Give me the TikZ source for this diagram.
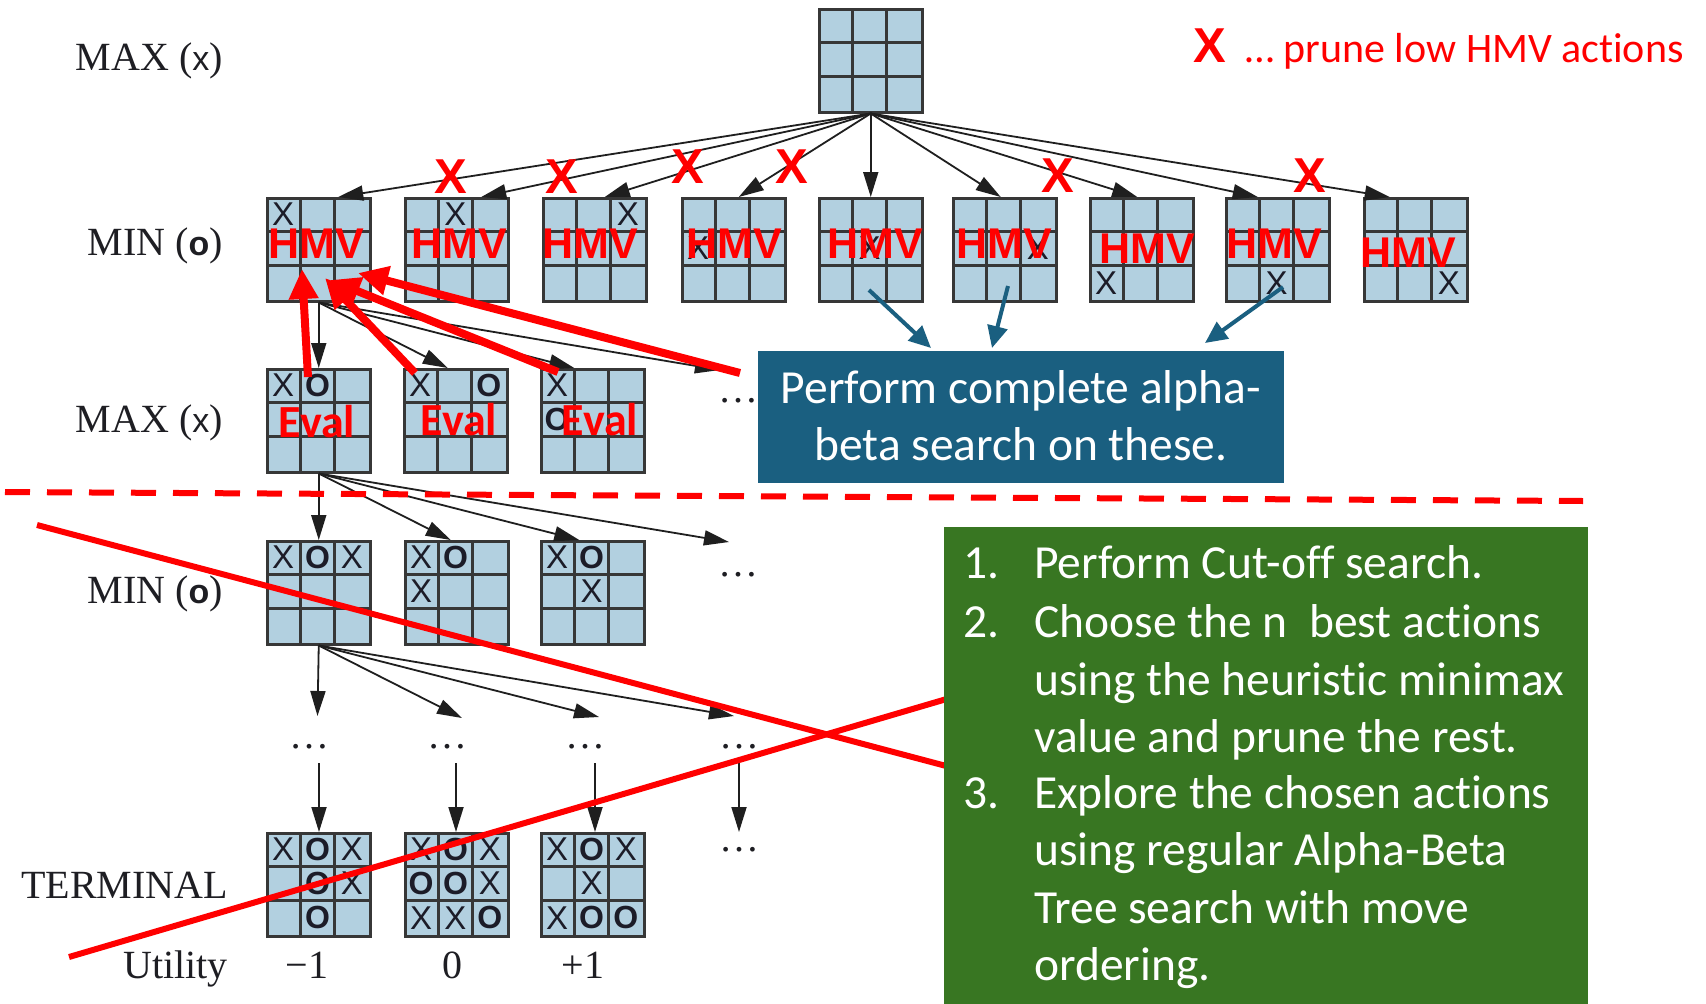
\documentclass[tikz,border=0pt]{standalone}
\usepackage{fontspec}
\setmainfont{Liberation Serif}
\newfontfamily\calib[Ligatures=NoCommon]{Carlito}
\newfontfamily\arialf{Liberation Sans}
\usetikzlibrary{arrows.meta,calc}
\definecolor{boardc}{RGB}{178,208,224}
\definecolor{gridc}{RGB}{55,55,55}
\definecolor{boxblue}{RGB}{26,95,128}
\definecolor{boxgreen}{RGB}{56,118,34}
\definecolor{labc}{RGB}{30,30,35}
\definecolor{markc}{RGB}{28,28,40}
\newcommand\mX{{\arialf\fontsize{33}{33}\selectfont X}}
\newcommand\mO{{\arialf\bfseries\fontsize{32}{32}\selectfont O}}
\newcommand\Board[3]{%
  \node[board] (#1) at (#2,#3) {};
  \foreach \k in {1,2}{
    \draw[gridl] (#2+34.33*\k,#3) -- (#2+34.33*\k,#3+103);
    \draw[gridl] (#2,#3+34.33*\k) -- (#2+103,#3+34.33*\k);
  }
}
\newcommand\Marks[4]{%
  \foreach \c/\r/\m in {#4}{\node[mk] (#1-\c\r) at (#2+17.17+34.33*\c,#3+17.17+34.33*\r) {\m};}
}
\begin{document}
\begin{tikzpicture}[x=1pt,y=-1pt,
  board/.style={draw=gridc,line width=2.5pt,fill=boardc,minimum width=103pt,minimum height=103pt,inner sep=0pt,anchor=north west},
  gridl/.style={draw=gridc,line width=2.5pt},
  mk/.style={inner sep=0pt,text=markc},
  conn/.style={draw=black!88,line width=1.8pt,-{Triangle[length=25pt,width=15pt]}},
  redarr/.style={draw=red,line width=8pt,-{Triangle[length=30pt,width=28pt]}},
  bluearr/.style={draw=boxblue,line width=4pt,-{Triangle[length=22pt,width=20pt]}},
  redline/.style={draw=red,line width=6pt},
  lvl/.style={anchor=base east,inner sep=0pt,text=labc,font=\fontsize{40}{40}\selectfont},
  hmv/.style={anchor=base,inner sep=0pt,text=red,font=\arialf\bfseries\fontsize{43}{43}\selectfont},
  prunex/.style={anchor=base,inner sep=0pt,text=red,font=\arialf\bfseries\fontsize{49}{49}\selectfont},
  evl/.style={anchor=base,inner sep=0pt,text=red,font=\calib\bfseries\fontsize{46}{46}\selectfont},
  ellip/.style={inner sep=0pt,text=labc,font=\fontsize{40}{40}\selectfont},
  wtxt/.style={anchor=base west,inner sep=0pt,text=white,font=\calib\fontsize{47.5}{47.5}\selectfont},
  ctxt/.style={anchor=base,inner sep=0pt,text=white,font=\calib\fontsize{47.5}{47.5}\selectfont},
]
\useasboundingbox[fill=white] (0,0) rectangle (1706,1004);

% level labels
\node[lvl] (l1) at (223,70) {MAX ({\arialf\fontsize{34}{34}\selectfont x})};
\node[lvl] (l2) at (223,255) {MIN ({\arialf\bfseries\fontsize{34}{34}\selectfont o})};
\node[lvl] (l3) at (223,432) {MAX ({\arialf\fontsize{34}{34}\selectfont x})};
\node[lvl] (l4) at (223,603) {MIN ({\arialf\bfseries\fontsize{34}{34}\selectfont o})};
\node[lvl] (l5) at (228,898) {TERMINAL};
\node[lvl] (l6) at (228,978) {Utility};
\node[anchor=base,inner sep=0pt,text=labc,font=\fontsize{40}{40}\selectfont] (u1) at (307,978) {−1};
\node[anchor=base,inner sep=0pt,text=labc,font=\fontsize{40}{40}\selectfont] (u2) at (452,978) {0};
\node[anchor=base,inner sep=0pt,text=labc,font=\fontsize{40}{40}\selectfont] (u3) at (583,978) {+1};

% boards
\Board{r}{818}{8}
\Board{m1}{266}{197} \Marks{m1}{266}{197}{0/0/\mX}
\Board{m2}{404}{197} \Marks{m2}{404}{197}{1/0/\mX}
\Board{m3}{542}{197} \Marks{m3}{542}{197}{2/0/\mX}
\Board{m4}{681}{197} \Marks{m4}{681}{197}{0/1/\mX}
\Board{m5}{818}{197} \Marks{m5}{818}{197}{1/1/\mX}
\Board{m6}{952}{197} \Marks{m6}{952}{197}{2/1/\mX}
\Board{m7}{1089}{197} \Marks{m7}{1089}{197}{0/2/\mX}
\Board{m8}{1225}{197} \Marks{m8}{1225}{197}{1/2/\mX}
\Board{m9}{1363}{197} \Marks{m9}{1363}{197}{2/2/\mX}
\Board{a1}{266}{368} \Marks{a1}{266}{368}{0/0/\mX,1/0/\mO}
\Board{a2}{403}{368} \Marks{a2}{403}{368}{0/0/\mX,2/0/\mO}
\Board{a3}{540}{368} \Marks{a3}{540}{368}{0/0/\mX,0/1/\mO}
\Board{b1}{266}{540} \Marks{b1}{266}{540}{0/0/\mX,1/0/\mO,2/0/\mX}
\Board{b2}{404}{540} \Marks{b2}{404}{540}{0/0/\mX,1/0/\mO,0/1/\mX}
\Board{b3}{540}{540} \Marks{b3}{540}{540}{0/0/\mX,1/0/\mO,1/1/\mX}
\Board{t1}{266}{832} \Marks{t1}{266}{832}{0/0/\mX,1/0/\mO,2/0/\mX,1/1/\mO,2/1/\mX,1/2/\mO}
\Board{t2}{404}{832} \Marks{t2}{404}{832}{0/0/\mX,1/0/\mO,2/0/\mX,0/1/\mO,1/1/\mO,2/1/\mX,0/2/\mX,1/2/\mX,2/2/\mO}
\Board{t3}{540}{832} \Marks{t3}{540}{832}{0/0/\mX,1/0/\mO,2/0/\mX,1/1/\mX,0/2/\mX,1/2/\mO,2/2/\mO}

% dots
\node[ellip] (d3) at (738,401) {\ldots};
\node[ellip] (d4) at (738,575) {\ldots};
\node[ellip] (c1) at (309,747) {\ldots};
\node[ellip] (c2) at (447,747) {\ldots};
\node[ellip] (c3) at (585,747) {\ldots};
\node[ellip] (c4) at (739,747) {\ldots};
\node[ellip] (d5) at (739,850) {\ldots};

% connectors
\foreach \b/\s in {m1/19.5,m2/24.5,m3/10,m4/5,m5/0,m6/-4,m7/-4.5,m8/-20,m9/-26}
  \draw[conn] (r.south) -- ([xshift=\s pt]\b.north);
\coordinate (e3) at (720,370);
\coordinate (e4) at (729,542);
\draw[conn] (m1.south) -- (a1.north);
\draw[conn] (m1.south) -- ([xshift=-8pt]a2.north);
\draw[conn] (m1.south) -- ([xshift=-18.5pt]a3.north);
\draw[conn] (m1.south) -- (e3);
\draw[conn] (a1.south) -- (b1.north);
\draw[conn] (a1.south) -- ([xshift=-6pt]b2.north);
\draw[conn] (a1.south) -- ([xshift=-13.5pt]b3.north);
\draw[conn] (a1.south) -- (e4);
\coordinate (f1) at (317.5,716);
\coordinate (f2) at (462,718);
\coordinate (f3) at (599,717);
\coordinate (f4) at (734,716);
\foreach \f in {f1,f2,f3,f4} \draw[conn] (b1.south) -- (\f);
\coordinate (g1) at (319,763);
\coordinate (g2) at (456,763);
\coordinate (g3) at (595,763);
\coordinate (g4) at (739,763);
\coordinate (h4) at (739,832);
\draw[conn] (g1) -- (g1 |- t1.north);
\draw[conn] (g2) -- (g2 |- t2.north);
\draw[conn] (g3) -- (g3 |- t3.north);
\draw[conn] (g4) -- (h4);

% red X prune marks
\node[prunex] (x1) at (451,193) {X};
\node[prunex] (x2) at (562,193) {X};
\node[prunex] (x3) at (688,183) {X};
\node[prunex] (x4) at (792,183) {X};
\node[prunex] (x5) at (1058,192) {X};
\node[prunex] (x6) at (1310,192) {X};
\node[prunex] (xl) at (1210,62) {X};
\node[anchor=base west,inner sep=0pt,text=red,font=\calib\fontsize{42}{42}\selectfont] (legend) at (1245,62) {… prune low HMV actions};

% HMV labels
\node[hmv] (h1) at (316,258) {HMV};
\node[hmv] (h2) at (459,258) {HMV};
\node[hmv] (h3) at (590,258) {HMV};
\node[hmv] (h4n) at (734,258) {HMV};
\node[hmv] (h5) at (875,258) {HMV};
\node[hmv] (h6) at (1004,258) {HMV};
\node[hmv] (h7) at (1147,263) {HMV};
\node[hmv] (h8) at (1274,258) {HMV};
\node[hmv] (h9) at (1408,267) {HMV};

% Eval labels
\node[evl] (v1) at (317,437) {Eval};
\node[evl] (v2) at (459,435) {Eval};
\node[evl] (v3) at (600,435) {Eval};

% red arrows
\coordinate (ra1) at (308,377); \coordinate (rb1) at (302,269);
\coordinate (ra2) at (415,373); \coordinate (rb2) at (325,278);
\coordinate (ra3) at (558,372); \coordinate (rb3) at (330,280);
\coordinate (ra4) at (740,373); \coordinate (rb4) at (358,273);
\draw[redarr] (ra1) -- (rb1);
\draw[redarr] (ra2) -- (rb2);
\draw[redarr] (ra3) -- (rb3);
\draw[redarr] (ra4) -- (rb4);

% blue box
\node[fill=boxblue,anchor=north west,minimum width=526pt,minimum height=132pt,inner sep=0pt] (bbox) at (758,351) {};
\node[ctxt] (bt1) at (1021,403) {Perform complete alpha-};
\node[ctxt] (bt2) at (1021,460) {beta search on these.};
\coordinate (bs1) at (869,290); \coordinate (bs2) at (1008,286); \coordinate (bs3) at (1283,287);
\draw[bluearr] (bs1) -- (931,348);
\draw[bluearr] (bs2) -- (992,348);
\draw[bluearr] (bs3) -- (1205,343);

% dashed cut-off line
\coordinate (k1) at (5,492); \coordinate (k2) at (1583,501);
\draw[red,line width=6pt,dash pattern=on 25pt off 17pt] (k1) -- (k2);

% red cross lines
\coordinate (p1) at (37,525); \coordinate (p2) at (950,767);
\coordinate (q1) at (69,957); \coordinate (q2) at (950,698);
\draw[redline] (p1) -- (p2);
\draw[redline] (q1) -- (q2);

% green box
\node[fill=boxgreen,anchor=north west,minimum width=644pt,minimum height=477pt,inner sep=0pt] (gbox) at (944,527) {};
\node[wtxt] (n1) at (963,578) {1.};
\node[wtxt] (gt1) at (1034,578) {Perform Cut-off search.};
\node[wtxt] (n2) at (963,637) {2.};
\node[wtxt] (gt2) at (1034,637) {Choose the n~ best actions};
\node[wtxt] (gt3) at (1034,695) {using the heuristic minimax};
\node[wtxt] (gt4) at (1034,752) {value and prune the rest.};
\node[wtxt] (n3) at (963,808) {3.};
\node[wtxt] (gt5) at (1034,808) {Explore the chosen actions};
\node[wtxt] (gt6) at (1034,865) {using regular Alpha-Beta};
\node[wtxt] (gt7) at (1034,923) {Tree search with move};
\node[wtxt] (gt8) at (1034,980) {ordering.};
\end{tikzpicture}
\end{document}
